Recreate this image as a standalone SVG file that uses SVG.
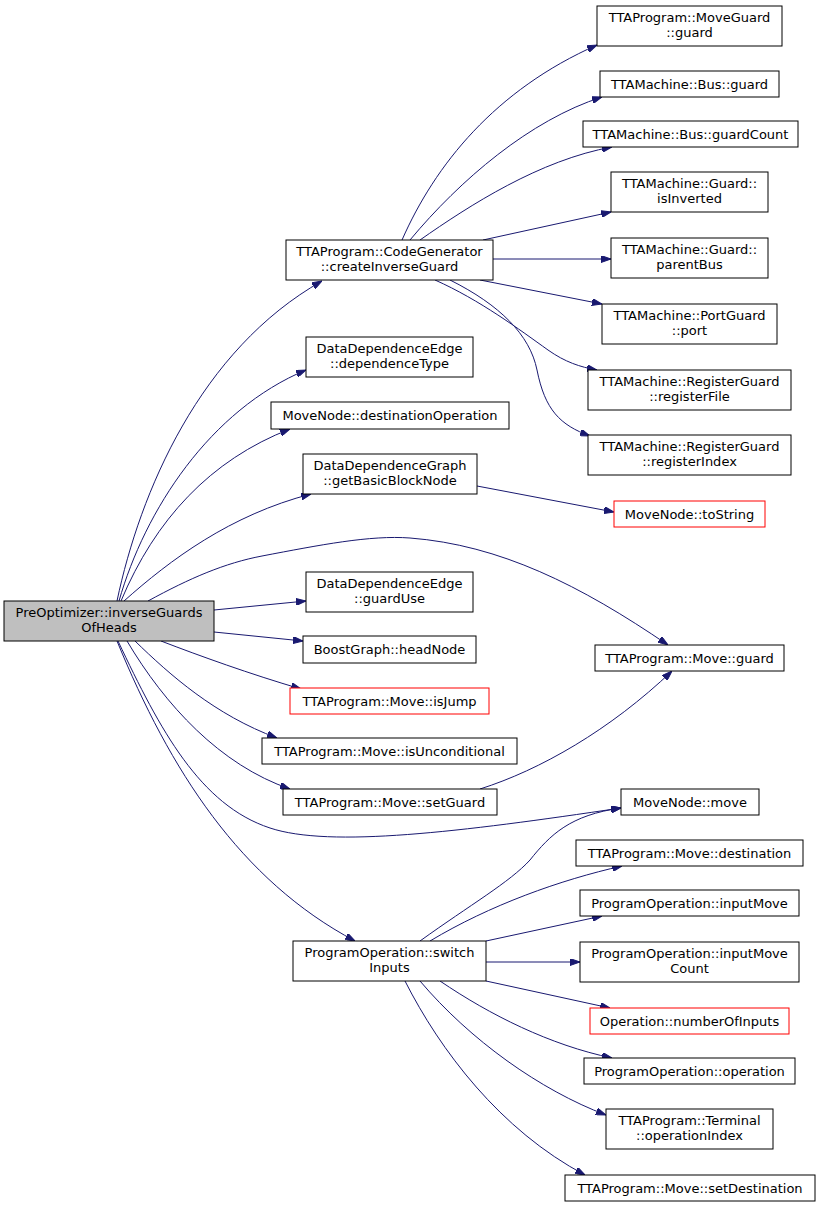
<svg xmlns="http://www.w3.org/2000/svg" width="820" height="1207" viewBox="0 0 820 1207">
<style>
.n rect{fill:#fff;stroke:#000;stroke-width:1}
.r rect{stroke:#ff0000}
.root rect{fill:#bfbfbf}
text{font-family:"DejaVu Sans",sans-serif;font-size:13px;fill:#000;text-anchor:middle}
.e path{fill:none;stroke:#191970;stroke-width:1;marker-end:url(#a)}
</style>
<defs>
<marker id="a" viewBox="0 0 10 7" refX="10" refY="3.5" markerWidth="10" markerHeight="7" markerUnits="userSpaceOnUse" orient="auto">
<path d="M0,0 L10,3.5 L0,7 z" fill="#191970" stroke="#191970"/>
</marker>
</defs>
<rect width="820" height="1207" fill="#fff"/>
<g class="e" id="edges">
<path d="M117,601 C140,492 200,350 322,281"/>
<path d="M119,601 C145,510 210,410 306,370"/>
<path d="M121,601 C155,520 210,460 290,429"/>
<path d="M124,601 C170,560 230,515 311,494"/>
<path d="M148,601 C190,578 225,563 262,556 C320,545 370,535 410,538 C500,545 580,585 668,645"/>
<path d="M214,610 L306,601"/>
<path d="M214,632 L303,641"/>
<path d="M161,641 C200,656 250,674 301,689"/>
<path d="M135,641 C170,675 215,715 277,738"/>
<path d="M127,641 C165,705 220,765 290,789"/>
<path d="M118,641 C160,730 200,805 270,828 C330,848 460,832 621,808"/>
<path d="M117,641 C170,770 240,880 355,941"/>
<path d="M402,240 C435,165 495,90 597,45"/>
<path d="M410,240 C460,180 530,120 602,97"/>
<path d="M420,240 C470,205 540,160 612,147"/>
<path d="M483,240 L611,212"/>
<path d="M493,259 L611,259"/>
<path d="M480,280 L602,304"/>
<path d="M435,280 C480,300 520,330 548,350 C565,362 580,367 597,370"/>
<path d="M450,280 C500,305 530,335 537,370 C545,410 560,425 590,436"/>
<path d="M477,486 L614,512"/>
<path d="M480,789 C540,770 610,730 672,671"/>
<path d="M420,941 C470,905 510,882 530,860 C550,835 570,815 621,808"/>
<path d="M430,941 C490,905 560,880 622,866"/>
<path d="M486,941 L602,916"/>
<path d="M486,962 L580,962"/>
<path d="M486,981 L610,1008"/>
<path d="M440,981 C490,1015 550,1045 612,1058"/>
<path d="M420,981 C470,1040 540,1090 606,1115"/>
<path d="M405,981 C440,1050 500,1130 585,1175"/>
</g>
<g id="n0" class="n root"><rect x="4" y="601" width="210" height="40"/><text x="109" y="617">PreOptimizer::inverseGuards</text><text x="109" y="632">OfHeads</text></g>
<g id="n1" class="n"><rect x="286" y="240" width="207" height="40"/><text x="389.5" y="256">TTAProgram::CodeGenerator</text><text x="389.5" y="271">::createInverseGuard</text></g>
<g id="n2" class="n"><rect x="306" y="337" width="167" height="40"/><text x="389.5" y="353">DataDependenceEdge</text><text x="389.5" y="368">::dependenceType</text></g>
<g id="n3" class="n"><rect x="271" y="402" width="238" height="27"/><text x="390" y="420">MoveNode::destinationOperation</text></g>
<g id="n4" class="n"><rect x="303" y="454" width="174" height="40"/><text x="390" y="470">DataDependenceGraph</text><text x="390" y="485">::getBasicBlockNode</text></g>
<g id="n5" class="n"><rect x="306" y="572" width="167" height="40"/><text x="389.5" y="588">DataDependenceEdge</text><text x="389.5" y="603">::guardUse</text></g>
<g id="n6" class="n"><rect x="303" y="636" width="173" height="27"/><text x="389.5" y="654">BoostGraph::headNode</text></g>
<g id="n7" class="n r"><rect x="290" y="688" width="199" height="26"/><text x="389.5" y="706">TTAProgram::Move::isJump</text></g>
<g id="n8" class="n"><rect x="262" y="738" width="255" height="26"/><text x="389.5" y="756">TTAProgram::Move::isUnconditional</text></g>
<g id="n9" class="n"><rect x="283" y="789" width="214" height="26"/><text x="390" y="807">TTAProgram::Move::setGuard</text></g>
<g id="n10" class="n"><rect x="293" y="941" width="193" height="40"/><text x="389.5" y="957">ProgramOperation::switch</text><text x="389.5" y="972">Inputs</text></g>
<g id="n11" class="n"><rect x="597" y="6" width="185" height="40"/><text x="689.5" y="22">TTAProgram::MoveGuard</text><text x="689.5" y="37">::guard</text></g>
<g id="n12" class="n"><rect x="600" y="71" width="179" height="26"/><text x="689.5" y="89">TTAMachine::Bus::guard</text></g>
<g id="n13" class="n"><rect x="583" y="121" width="215" height="26"/><text x="690.5" y="139">TTAMachine::Bus::guardCount</text></g>
<g id="n14" class="n"><rect x="611" y="172" width="157" height="40"/><text x="689.5" y="188">TTAMachine::Guard::</text><text x="689.5" y="203">isInverted</text></g>
<g id="n15" class="n"><rect x="611" y="238" width="157" height="40"/><text x="689.5" y="254">TTAMachine::Guard::</text><text x="689.5" y="269">parentBus</text></g>
<g id="n16" class="n"><rect x="602" y="304" width="175" height="40"/><text x="689.5" y="320">TTAMachine::PortGuard</text><text x="689.5" y="335">::port</text></g>
<g id="n17" class="n"><rect x="588" y="370" width="203" height="40"/><text x="689.5" y="386">TTAMachine::RegisterGuard</text><text x="689.5" y="401">::registerFile</text></g>
<g id="n18" class="n"><rect x="588" y="435" width="203" height="40"/><text x="689.5" y="451">TTAMachine::RegisterGuard</text><text x="689.5" y="466">::registerIndex</text></g>
<g id="n19" class="n r"><rect x="614" y="501" width="151" height="26"/><text x="689.5" y="519">MoveNode::toString</text></g>
<g id="n20" class="n"><rect x="595" y="645" width="189" height="26"/><text x="689.5" y="663">TTAProgram::Move::guard</text></g>
<g id="n21" class="n"><rect x="621" y="789" width="138" height="26"/><text x="690" y="807">MoveNode::move</text></g>
<g id="n22" class="n"><rect x="576" y="840" width="227" height="26"/><text x="689.5" y="858">TTAProgram::Move::destination</text></g>
<g id="n23" class="n"><rect x="580" y="890" width="219" height="26"/><text x="689.5" y="908">ProgramOperation::inputMove</text></g>
<g id="n24" class="n"><rect x="580" y="942" width="219" height="40"/><text x="689.5" y="958">ProgramOperation::inputMove</text><text x="689.5" y="973">Count</text></g>
<g id="n25" class="n r"><rect x="590" y="1008" width="199" height="26"/><text x="689.5" y="1026">Operation::numberOfInputs</text></g>
<g id="n26" class="n"><rect x="584" y="1058" width="211" height="26"/><text x="689.5" y="1076">ProgramOperation::operation</text></g>
<g id="n27" class="n"><rect x="606" y="1109" width="167" height="40"/><text x="689.5" y="1125">TTAProgram::Terminal</text><text x="689.5" y="1140">::operationIndex</text></g>
<g id="n28" class="n"><rect x="565" y="1175" width="250" height="26"/><text x="690" y="1193">TTAProgram::Move::setDestination</text></g>
</svg>
